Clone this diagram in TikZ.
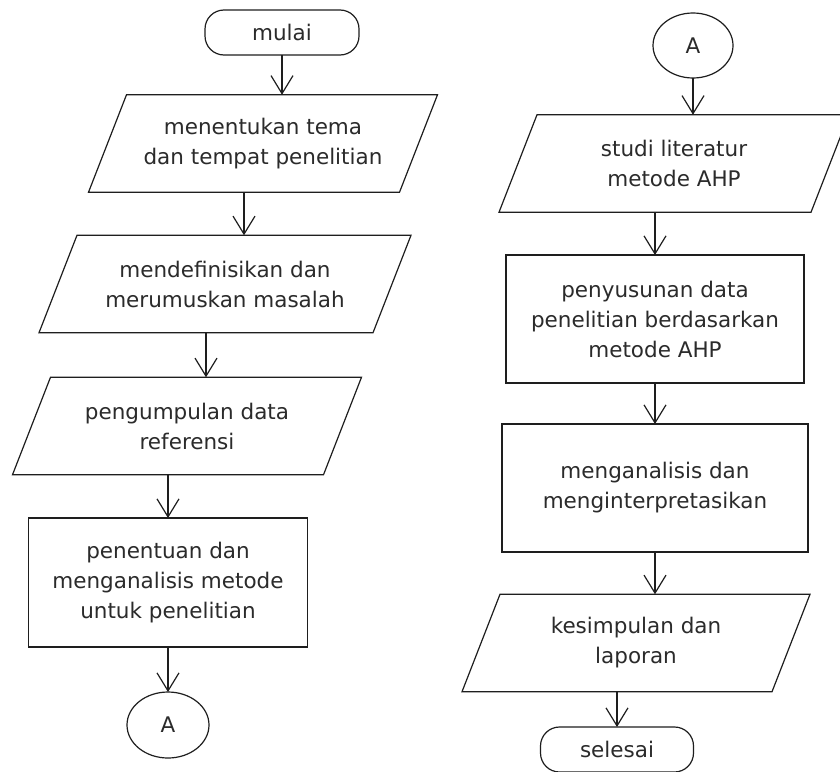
\documentclass[tikz,border=0pt]{standalone}
\usepackage{fontspec}
\setmainfont{DejaVu Sans}
\usetikzlibrary{shapes.geometric,arrows.meta}
\definecolor{ln}{HTML}{1E1E1E}
\definecolor{tx}{HTML}{2B2B2B}
\newcommand\drawpara[1]{%
  \draw[outline] ([xshift=19pt]#1.north west) -- ([xshift=19pt]#1.north east)
    -- ([xshift=-19pt]#1.south east) -- ([xshift=-19pt]#1.south west) -- cycle;}
\begin{document}
\begin{tikzpicture}[x=1pt,y=-1pt,
  outline/.style={draw=ln, line width=1.2pt},
  base/.style={outline, text=tx, font=\fontsize{21.5}{30}\selectfont, align=center, inner sep=0pt, outer sep=0pt},
  io/.style={base, draw=none, rectangle, minimum height=97.5pt},
  proc/.style={base, rectangle, minimum height=128pt},
  term/.style={base, rectangle, rounded corners=19pt, minimum height=45pt},
  conn/.style={base, ellipse},
  arr/.style={draw=ln, line width=1.2pt, -{Straight Barb[length=18pt,width=22pt,line width=1.2pt]}}]
\fill[white] (0,0) rectangle (840,771);
\useasboundingbox (0,0) rectangle (840,771);
% left column
\node[term, minimum width=154pt] (mulai) at (282,32.5) {mulai};
\node[io, minimum width=311pt] (p1) at (263,143.5) {menentukan tema\\dan tempat penelitian};
\node[io, minimum width=334pt] (p2) at (225,284) {mendefinisikan dan\\merumuskan masalah};
\node[io, minimum width=311pt] (p3) at (187,426) {pengumpulan data\\referensi};
\node[proc, minimum width=279pt, minimum height=129pt] (r1) at (168,582.5) {penentuan dan\\menganalisis metode\\untuk penelitian};
\node[conn, minimum width=82pt, minimum height=66pt] (a1) at (168,725) {A};
% right column
\node[conn, minimum width=80pt, minimum height=65pt] (a2) at (693,45.5) {A};
\node[io, minimum width=312pt] (p4) at (674,163.5) {studi literatur\\metode AHP};
\node[proc, minimum width=298pt] (r2) at (655,319) {penyusunan data\\penelitian berdasarkan\\metode AHP};
\node[proc, minimum width=306pt] (r3) at (655,488) {menganalisis dan\\menginterpretasikan};
\node[io, minimum width=310pt] (p5) at (636,643) {kesimpulan dan\\laporan};
\node[term, minimum width=153pt] (selesai) at (617,749.5) {selesai};
% parallelogram outlines
\drawpara{p1}
\drawpara{p2}
\drawpara{p3}
\drawpara{p4}
\drawpara{p5}
% connectors
\draw[arr] (mulai.south) -- ([xshift=19pt]p1.north);
\draw[arr] ([xshift=-19pt]p1.south) -- ([xshift=19pt]p2.north);
\draw[arr] ([xshift=-19pt]p2.south) -- ([xshift=19pt]p3.north);
\draw[arr] ([xshift=-19pt]p3.south) -- (r1.north);
\draw[arr] (r1.south) -- (a1.north);
\draw[arr] (a2.south) -- ([xshift=19pt]p4.north);
\draw[arr] ([xshift=-19pt]p4.south) -- (r2.north);
\draw[arr] (r2.south) -- (r3.north);
\draw[arr] (r3.south) -- ([xshift=19pt]p5.north);
\draw[arr] ([xshift=-19pt]p5.south) -- (selesai.north);
\end{tikzpicture}
\end{document}
